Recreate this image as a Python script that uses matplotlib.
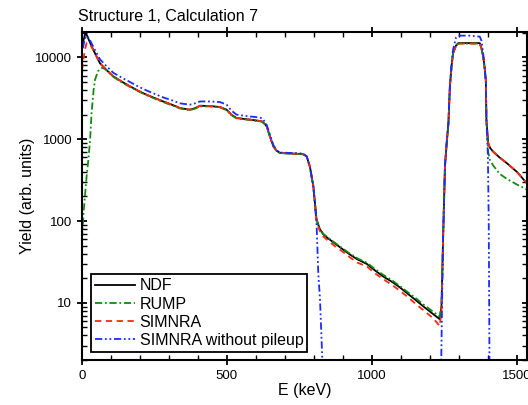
import numpy as np
import matplotlib
matplotlib.use('Agg')
import matplotlib.pyplot as plt
from matplotlib.ticker import FixedLocator, LogLocator, NullFormatter

plt.rcParams['font.family'] = ['Liberation Sans', 'DejaVu Sans']

# NDF (black)
e_ndf = [3, 10, 16, 25, 39, 62, 85, 108, 140, 166, 195, 223, 250, 280, 310, 338, 372, 390, 407,
         440, 476, 499, 515, 533, 555, 579, 600, 620, 630, 637, 648, 660, 672, 683, 720, 762, 775,
         786, 798, 809, 820, 832, 850, 867, 900, 924, 950, 982, 1010, 1039, 1070, 1097, 1125, 1154,
         1180, 1211, 1234, 1240, 1246, 1252, 1258, 1264, 1269, 1275, 1280, 1290, 1298, 1340, 1372,
         1378, 1384, 1389, 1393, 1395, 1401, 1407, 1418, 1440, 1464, 1500, 1533]
y_ndf = [15000, 19000, 19000, 16000, 12400, 8500, 7000, 5870, 5000, 4430, 3900, 3500, 3200, 2900,
         2650, 2410, 2300, 2400, 2570, 2550, 2480, 2300, 2000, 1820, 1780, 1740, 1700, 1660, 1550,
         1440, 1090, 822, 720, 682, 670, 660, 617, 466, 267, 105, 80, 69, 61, 55, 45, 39, 34, 30, 25,
         21, 18, 15.4, 12.8, 10.6, 8.9, 7.3, 6.3, 9, 72, 466, 900, 1590, 4430, 8000, 11300, 14000,
         15000, 15000, 15000, 13000, 10300, 7500, 5350, 1740, 903, 790, 707, 600, 516, 400, 294]

# RUMP (green)
e_rump = [0, 5, 10, 16, 22, 28, 33, 40, 45, 55, 70, 85, 108, 140, 166, 195, 223, 250, 280, 310,
          338, 372, 390, 407, 440, 476, 499, 515, 533, 555, 579, 600, 620, 630, 637, 648, 660, 672,
          683, 720, 762, 775, 786, 798, 809, 820, 832, 850, 867, 900, 924, 950, 982, 1010, 1039, 1070,
          1097, 1125, 1154, 1180, 1211, 1234, 1240, 1246, 1252, 1258, 1264, 1269, 1275, 1280, 1290,
          1298, 1340, 1372, 1378, 1384, 1389, 1393, 1395, 1401, 1407, 1418, 1440, 1464, 1500, 1533]
y_rump = [60, 120, 200, 355, 565, 1000, 2100, 4000, 5350, 6800, 7500, 7000, 5800, 4900, 4350, 3850,
          3450, 3150, 2850, 2600, 2380, 2270, 2370, 2530, 2520, 2450, 2270, 1980, 1800, 1760, 1720,
          1680, 1640, 1530, 1420, 1080, 815, 715, 678, 665, 655, 610, 460, 262, 104, 80, 70, 62, 56,
          46, 40, 35, 31, 26, 22, 18.8, 16, 13.4, 11.2, 9.4, 7.8, 6.8, 9.5, 72, 460, 890, 1570, 4400,
          7900, 11200, 13900, 14800, 14800, 14800, 12800, 10100, 7300, 5200, 1700, 700, 560, 480, 380,
          330, 280, 245]

# SIMNRA (red)
e_sim = [0, 5, 10, 16, 25, 39, 62, 85, 108, 140, 166, 195, 223, 250, 280, 310, 338, 372, 390, 407,
         440, 476, 499, 515, 533, 555, 579, 600, 620, 630, 637, 648, 660, 672, 683, 720, 762, 775,
         786, 798, 809, 820, 832, 850, 867, 900, 924, 950, 982, 1010, 1039, 1070, 1097, 1125, 1154,
         1180, 1211, 1234, 1240, 1246, 1252, 1258, 1264, 1269, 1275, 1280, 1290, 1298, 1340, 1372,
         1378, 1384, 1389, 1393, 1395, 1401, 1407, 1418, 1440, 1464, 1500, 1533]
y_sim = [7000, 9500, 12500, 15000, 15000, 12400, 8500, 7000, 5870, 5000, 4430, 3900, 3500, 3200,
         2900, 2650, 2410, 2300, 2400, 2570, 2550, 2480, 2300, 2000, 1820, 1780, 1740, 1700, 1660,
         1550, 1440, 1090, 822, 720, 682, 670, 660, 617, 466, 267, 100, 76, 65, 57, 51, 42, 36, 31,
         28, 23, 19.5, 16.5, 14, 11.7, 9.5, 8, 6.5, 5.2, 8, 70, 460, 890, 1580, 4400, 7900, 11200,
         13900, 14800, 14800, 14800, 12900, 10200, 7400, 5300, 1750, 910, 790, 710, 600, 516, 400,
         294]

# SIMNRA without pileup (blue)
e_nop = [3, 10, 16, 25, 39, 62, 85, 108, 140, 166, 195, 223, 250, 280, 310, 338, 372, 390, 407,
         440, 476, 499, 515, 533, 555, 579, 600, 620, 630, 637, 648, 660, 672, 683, 720, 762, 775,
         786, 798, 809, 815, 821, 828, 832, 1238, 1242, 1246, 1252, 1258, 1264, 1269, 1275, 1280,
         1290, 1298, 1340, 1372, 1378, 1384, 1389, 1393, 1395, 1400, 1403, 1406]
y_nop = [13000, 17000, 18500, 17000, 13500, 9500, 7800, 6500, 5600, 5000, 4400, 3950, 3600, 3250,
         3000, 2750, 2650, 2750, 2900, 2900, 2850, 2650, 2250, 2000, 1950, 1900, 1870, 1820, 1650,
         1500, 1150, 850, 730, 690, 680, 670, 620, 470, 260, 95, 23, 11, 2.5, 1, 1, 10, 72, 470,
         920, 1620, 4500, 8500, 12500, 17500, 18500, 18500, 18000, 16000, 11000, 7500, 5000, 1700,
         650, 100, 1]

labels = ['NDF', 'RUMP', 'SIMNRA', 'SIMNRA without pileup']

fig = plt.figure(figsize=(5.28, 4.05), dpi=100)
ax = fig.add_axes([82/528, 45/405, 445/528, 328/405])

ax.plot(e_ndf, y_ndf, color='black', lw=1.3, label=labels[0])
ax.plot(e_rump, y_rump, color='#108a10', lw=1.3, dashes=(4, 1.5, 1, 1.5), label=labels[1])
ax.plot(e_sim, y_sim, color='#ff2a0a', lw=1.3, dashes=(3.5, 2.5), label=labels[2])
ax.plot(e_nop, y_nop, color='#1a2cff', lw=1.3, dashes=(4, 1.5, 1, 1.5, 1, 1.5), label=labels[3])

ax.set_yscale('log')
ax.set_xlim(0, 1535)
ax.set_ylim(2, 20500)

ax.xaxis.set_major_locator(FixedLocator([0, 500, 1000, 1500]))
ax.xaxis.set_minor_locator(FixedLocator(np.arange(0, 1600, 100)))
ax.yaxis.set_major_locator(FixedLocator([10, 100, 1000, 10000]))
ax.yaxis.set_minor_locator(LogLocator(base=10, subs=np.arange(2, 10)))
ax.yaxis.set_minor_formatter(NullFormatter())
ax.set_yticklabels(['10', '100', '1000', '10000'])
ax.tick_params(which='major', direction='inout', length=7, width=1.3, labelsize=9.5,
               top=True, right=True)
ax.tick_params(which='minor', direction='in', length=3.5, width=1, top=True, right=True)
for s in ax.spines.values():
    s.set_linewidth(1.5)

ax.set_xlabel('E (keV)', fontsize=11.5, labelpad=1)
ax.set_ylabel('Yield (arb. units)', fontsize=11.5, labelpad=0)
fig.text(78/528, 1 - 21/405, 'Structure 1, Calculation 7', fontsize=11.5, va='baseline')

leg = ax.legend(loc='lower left', bbox_to_anchor=(9/445, 8/328), fontsize=11.5, frameon=True,
                fancybox=False, edgecolor='black', framealpha=1, handlelength=2.5,
                labelspacing=0.2, borderpad=0.25, handletextpad=0.3, borderaxespad=0)
leg.get_frame().set_linewidth(1.3)

fig.savefig('out.png', dpi=100)
